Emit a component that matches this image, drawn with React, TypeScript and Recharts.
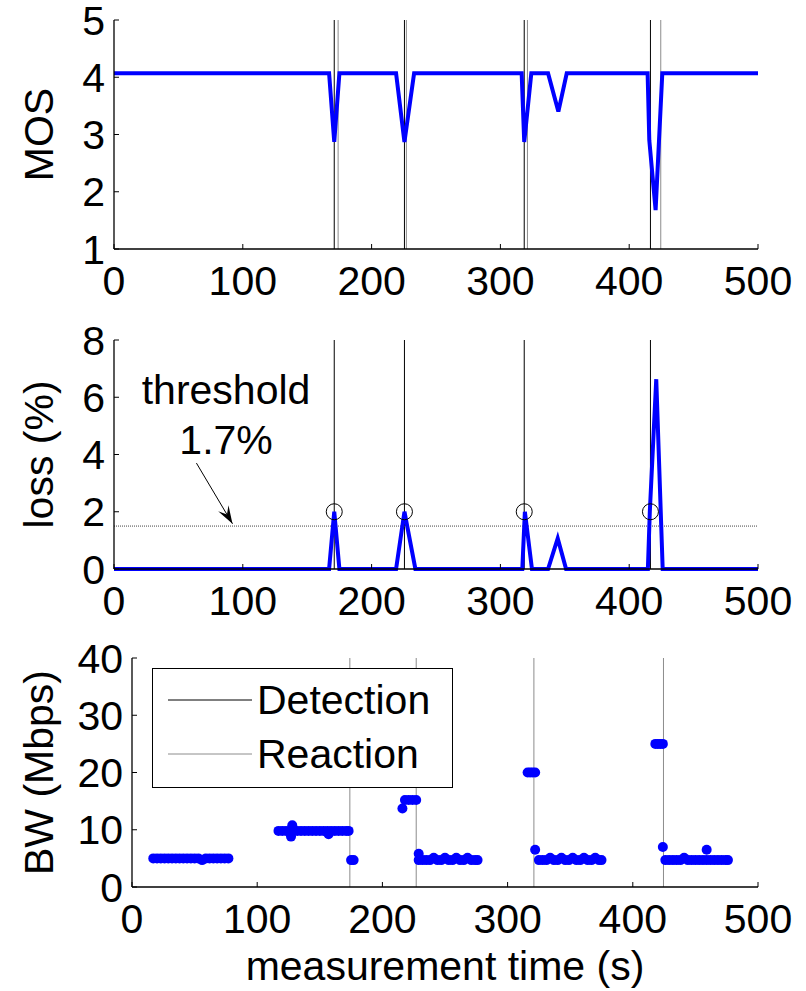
import {
  ComposedChart,
  Line,
  Scatter,
  XAxis,
  YAxis,
  ReferenceLine,
  ReferenceDot,
  Legend,
} from 'recharts';

const FONT = 'Arial, "Liberation Sans", sans-serif';
const BLUE = '#0000ff';
const GRAY = '#8c8c8c';
const FS = 41;

const timeTicks = [0, 100, 200, 300, 400, 500];
const mosTicks = [1, 2, 3, 4, 5];
const lossTicks = [0, 2, 4, 6, 8];
const bwTicks = [0, 10, 20, 30, 40];

// MOS over time (top panel)
const mosTime = [0, 167, 171, 175, 219, 225.5, 233, 316.5, 318.5, 324, 337, 345, 351.5, 414.3, 415.6, 420.5, 425.7, 500];
const mosValue = [4.07, 4.07, 2.87, 4.07, 4.07, 2.87, 4.07, 4.07, 2.87, 4.07, 4.07, 3.4, 4.07, 4.07, 2.9, 1.68, 4.07, 4.07];

// loss over time (middle panel)
const lossTime = [0, 167, 171, 175, 219, 225.5, 234, 317, 319, 324.5, 337, 344.5, 351, 414.5, 416, 421, 426, 500];
const lossValue = [0, 0, 2, 0, 0, 2, 0, 0, 2, 0, 0, 1.07, 0, 0, 2, 6.63, 0, 0];

const detectionTimes = [171, 225.5, 318.5, 416.5];
const detectionLoss = [2, 2, 2, 2];
const reactionTimes = [174, 227, 321, 424.5];
const thresholdLoss = 1.5;

// measured bandwidth (bottom panel)
const bwTime = [
  17, 20, 23, 26, 29, 32, 35, 38, 41, 44, 47, 50, 53, 56, 59, 62, 65, 68, 71, 74, 77,
  117, 120, 123, 126, 127, 128, 129, 132, 135, 138, 141, 144, 147, 150, 153, 156, 157, 159, 162, 165, 168, 171, 173,
  175, 177,
  216, 218, 221, 224, 227,
  229, 229, 232, 235, 238, 241, 244, 247, 250, 253, 256, 259, 262, 265, 268, 271, 274, 276,
  316, 318, 320, 322,
  322, 325, 328, 331, 334, 337, 340, 343, 346, 349, 352, 355, 358, 361, 364, 367, 370, 373, 375,
  418, 420, 422, 424,
  424, 426, 429, 432, 435, 438, 441, 444, 447, 450, 453, 456, 459, 459, 462, 465, 468, 471, 474, 476,
];
const bwMbps = [
  5, 5, 5, 5, 5, 5, 5, 5, 5, 5, 5, 5, 5, 4.7, 5, 5, 5, 5, 5, 5, 5,
  9.8, 9.8, 9.8, 9.8, 8.8, 10.8, 9.8, 9.8, 9.8, 9.8, 9.8, 9.8, 9.8, 9.8, 9.8, 9.8, 9.2, 9.8, 9.8, 9.8, 9.8, 9.8, 9.8,
  4.7, 4.7,
  13.7, 15.2, 15.2, 15.2, 15.2,
  5.8, 4.7, 4.7, 4.7, 4.7, 5.1, 4.7, 4.7, 5.1, 4.7, 4.7, 5.1, 4.7, 4.7, 5.1, 4.7, 4.7, 4.7,
  20, 20, 20, 20,
  6.5, 4.7, 4.7, 4.7, 5.1, 4.7, 4.7, 5.1, 4.7, 4.7, 5.1, 4.7, 4.7, 5.1, 4.7, 4.7, 5.1, 4.7, 4.7,
  25, 25, 25, 25,
  7, 4.7, 4.7, 4.7, 4.7, 4.7, 5.1, 4.7, 4.7, 4.7, 4.7, 4.7, 6.5, 4.7, 4.7, 4.7, 4.7, 4.7, 4.7, 4.7,
];

const legendItems = [
  { name: 'Detection', color: '#000' },
  { name: 'Reaction', color: GRAY },
];

const mosData = mosTime.map((t, i) => ({ t, v: mosValue[i] }));
const lossData = lossTime.map((t, i) => ({ t, v: lossValue[i] }));
const circleData = detectionTimes.map((t, i) => ({ t, v: detectionLoss[i] }));
const bwData = bwTime.map((t, i) => ({ t, v: bwMbps[i] }));

const tickStyle = { fill: '#000', fontSize: FS, fontFamily: FONT };
const labelStyle = { textAnchor: 'middle' as const, fontSize: FS, fontFamily: FONT, fill: '#000' };

// box with inward ticks on all sides, like matlab
function frame(yDomain: number[], yTicks: number[], yWidth: number, yLabel: string, xHeight: number, xLabel?: string) {
  return [
    <XAxis
      key='xb'
      type='number'
      dataKey='t'
      domain={[0, 500]}
      ticks={timeTicks}
      interval={0}
      height={xHeight}
      tickSize={-5}
      tickMargin={22}
      tick={tickStyle}
      stroke='#000'
      axisLine={{ stroke: '#000', strokeWidth: 1.3 }}
      label={xLabel ? { value: xLabel, position: 'insideBottom', offset: 11, style: labelStyle } : undefined}
    />,
    <XAxis key='xt' xAxisId='top' orientation='top' type='number' domain={[0, 500]} ticks={timeTicks} interval={0}
      height={0} tick={false} tickSize={-5} stroke='#000' axisLine={{ stroke: '#000', strokeWidth: 1.3 }} />,
    <YAxis
      key='yl'
      type='number'
      domain={yDomain}
      ticks={yTicks}
      interval={0}
      width={yWidth}
      tickSize={-5}
      tickMargin={14}
      tick={tickStyle}
      stroke='#000'
      axisLine={{ stroke: '#000', strokeWidth: 1.3 }}
      label={{ value: yLabel, angle: -90, position: 'insideLeft', offset: 38, style: labelStyle }}
    />,
    <YAxis key='yr' yAxisId='right' orientation='right' type='number' domain={yDomain} ticks={yTicks} interval={0}
      width={0} tick={false} tickSize={-5} stroke='#000' axisLine={{ stroke: '#000', strokeWidth: 1.3 }} />,
  ];
}

function Arrow(props: any) {
  const { x1, y1, x2, y2 } = props;
  const a = Math.atan2(y2 - y1, x2 - x1);
  const len = 18;
  const half = 6;
  const bx = x2 - len * Math.cos(a);
  const by = y2 - len * Math.sin(a);
  const nx = x2 - len * 0.6 * Math.cos(a);
  const ny = y2 - len * 0.6 * Math.sin(a);
  const p1 = `${bx + half * Math.sin(a)},${by - half * Math.cos(a)}`;
  const p2 = `${bx - half * Math.sin(a)},${by + half * Math.cos(a)}`;
  return (
    <g>
      <line x1={x1} y1={y1} x2={x2} y2={y2} stroke='#000' strokeWidth={1} />
      <polygon points={`${x2},${y2} ${p1} ${nx},${ny} ${p2}`} fill='#000' />
    </g>
  );
}

function LegendBox() {
  return (
    <div style={{ width: 301, height: 120, boxSizing: 'border-box', border: '1.5px solid #000', background: '#fff', paddingTop: 4 }}>
      {legendItems.map((item) => (
        <div key={item.name} style={{ height: 54, display: 'flex', alignItems: 'center' }}>
          <svg width={104} height={54} style={{ flex: 'none' }}>
            <line x1={15} y1={27} x2={99} y2={27} stroke={item.color} strokeWidth={1} />
          </svg>
          <span style={{ fontSize: FS, fontFamily: FONT, color: '#000', lineHeight: '54px' }}>{item.name}</span>
        </div>
      ))}
    </div>
  );
}

export default function App() {
  return (
    <div style={{ position: 'absolute', left: 0, top: 0, width: 806, height: 991, background: '#fff' }}>
      <div style={{ position: 'absolute', left: 0, top: 0 }}>
        <ComposedChart width={806} height={320} margin={{ top: 20, right: 48, bottom: 20, left: 0 }}>
          {frame([1, 5], mosTicks, 114, 'MOS', 51)}
          {detectionTimes.map((t) => (
            <ReferenceLine key={'d' + t} x={t} stroke='#000' strokeWidth={1} />
          ))}
          {reactionTimes.map((t) => (
            <ReferenceLine key={'r' + t} x={t} stroke={GRAY} strokeWidth={1} />
          ))}
          <Line data={mosData} dataKey='v' type='linear' stroke={BLUE} strokeWidth={4} dot={false} isAnimationActive={false} />
        </ComposedChart>
      </div>

      <div style={{ position: 'absolute', left: 0, top: 300 }}>
        <ComposedChart width={806} height={340} margin={{ top: 40, right: 48, bottom: 20, left: 0 }}>
          {frame([0, 8], lossTicks, 114, 'loss (%)', 51)}
          {detectionTimes.map((t) => (
            <ReferenceLine key={'d' + t} x={t} stroke='#000' strokeWidth={1} />
          ))}
          <ReferenceLine y={thresholdLoss} stroke='#444' strokeWidth={1} strokeDasharray='1 1' />
          <ReferenceLine segment={[{ x: 64, y: 3.7 }, { x: 92, y: 1.58 }]} shape={Arrow} />
          <ReferenceDot x={87} y={6.29} r={0} fill='none' stroke='none'
            label={{ value: 'threshold', position: 'center', style: { fontSize: FS, fontFamily: FONT, fill: '#000' } }} />
          <ReferenceDot x={87} y={4.54} r={0} fill='none' stroke='none'
            label={{ value: '1.7%', position: 'center', style: { fontSize: FS, fontFamily: FONT, fill: '#000' } }} />
          <Line data={lossData} dataKey='v' type='linear' stroke={BLUE} strokeWidth={4} dot={false} isAnimationActive={false} />
          <Scatter data={circleData} dataKey='v' isAnimationActive={false}
            shape={(p: any) => <circle cx={p.cx} cy={p.cy} r={8} fill='none' stroke='#000' strokeWidth={1} />} />
        </ComposedChart>
      </div>

      <div style={{ position: 'absolute', left: 0, top: 620 }}>
        <ComposedChart width={806} height={371} margin={{ top: 38, right: 48, bottom: 0, left: 0 }}>
          {frame([0, 40], bwTicks, 132, 'BW (Mbps)', 104, 'measurement time (s)')}
          {reactionTimes.map((t) => (
            <ReferenceLine key={'r' + t} x={t} stroke={GRAY} strokeWidth={1} />
          ))}
          <Scatter data={bwData} dataKey='v' isAnimationActive={false}
            shape={(p: any) => <circle cx={p.cx} cy={p.cy} r={5} fill={BLUE} />} />
          <Legend
            layout='vertical'
            align='center'
            verticalAlign='middle'
            content={() => <LegendBox />}
            wrapperStyle={{ position: 'absolute', left: 152, top: 48, width: 301, height: 120 }}
          />
        </ComposedChart>
      </div>
    </div>
  );
}
